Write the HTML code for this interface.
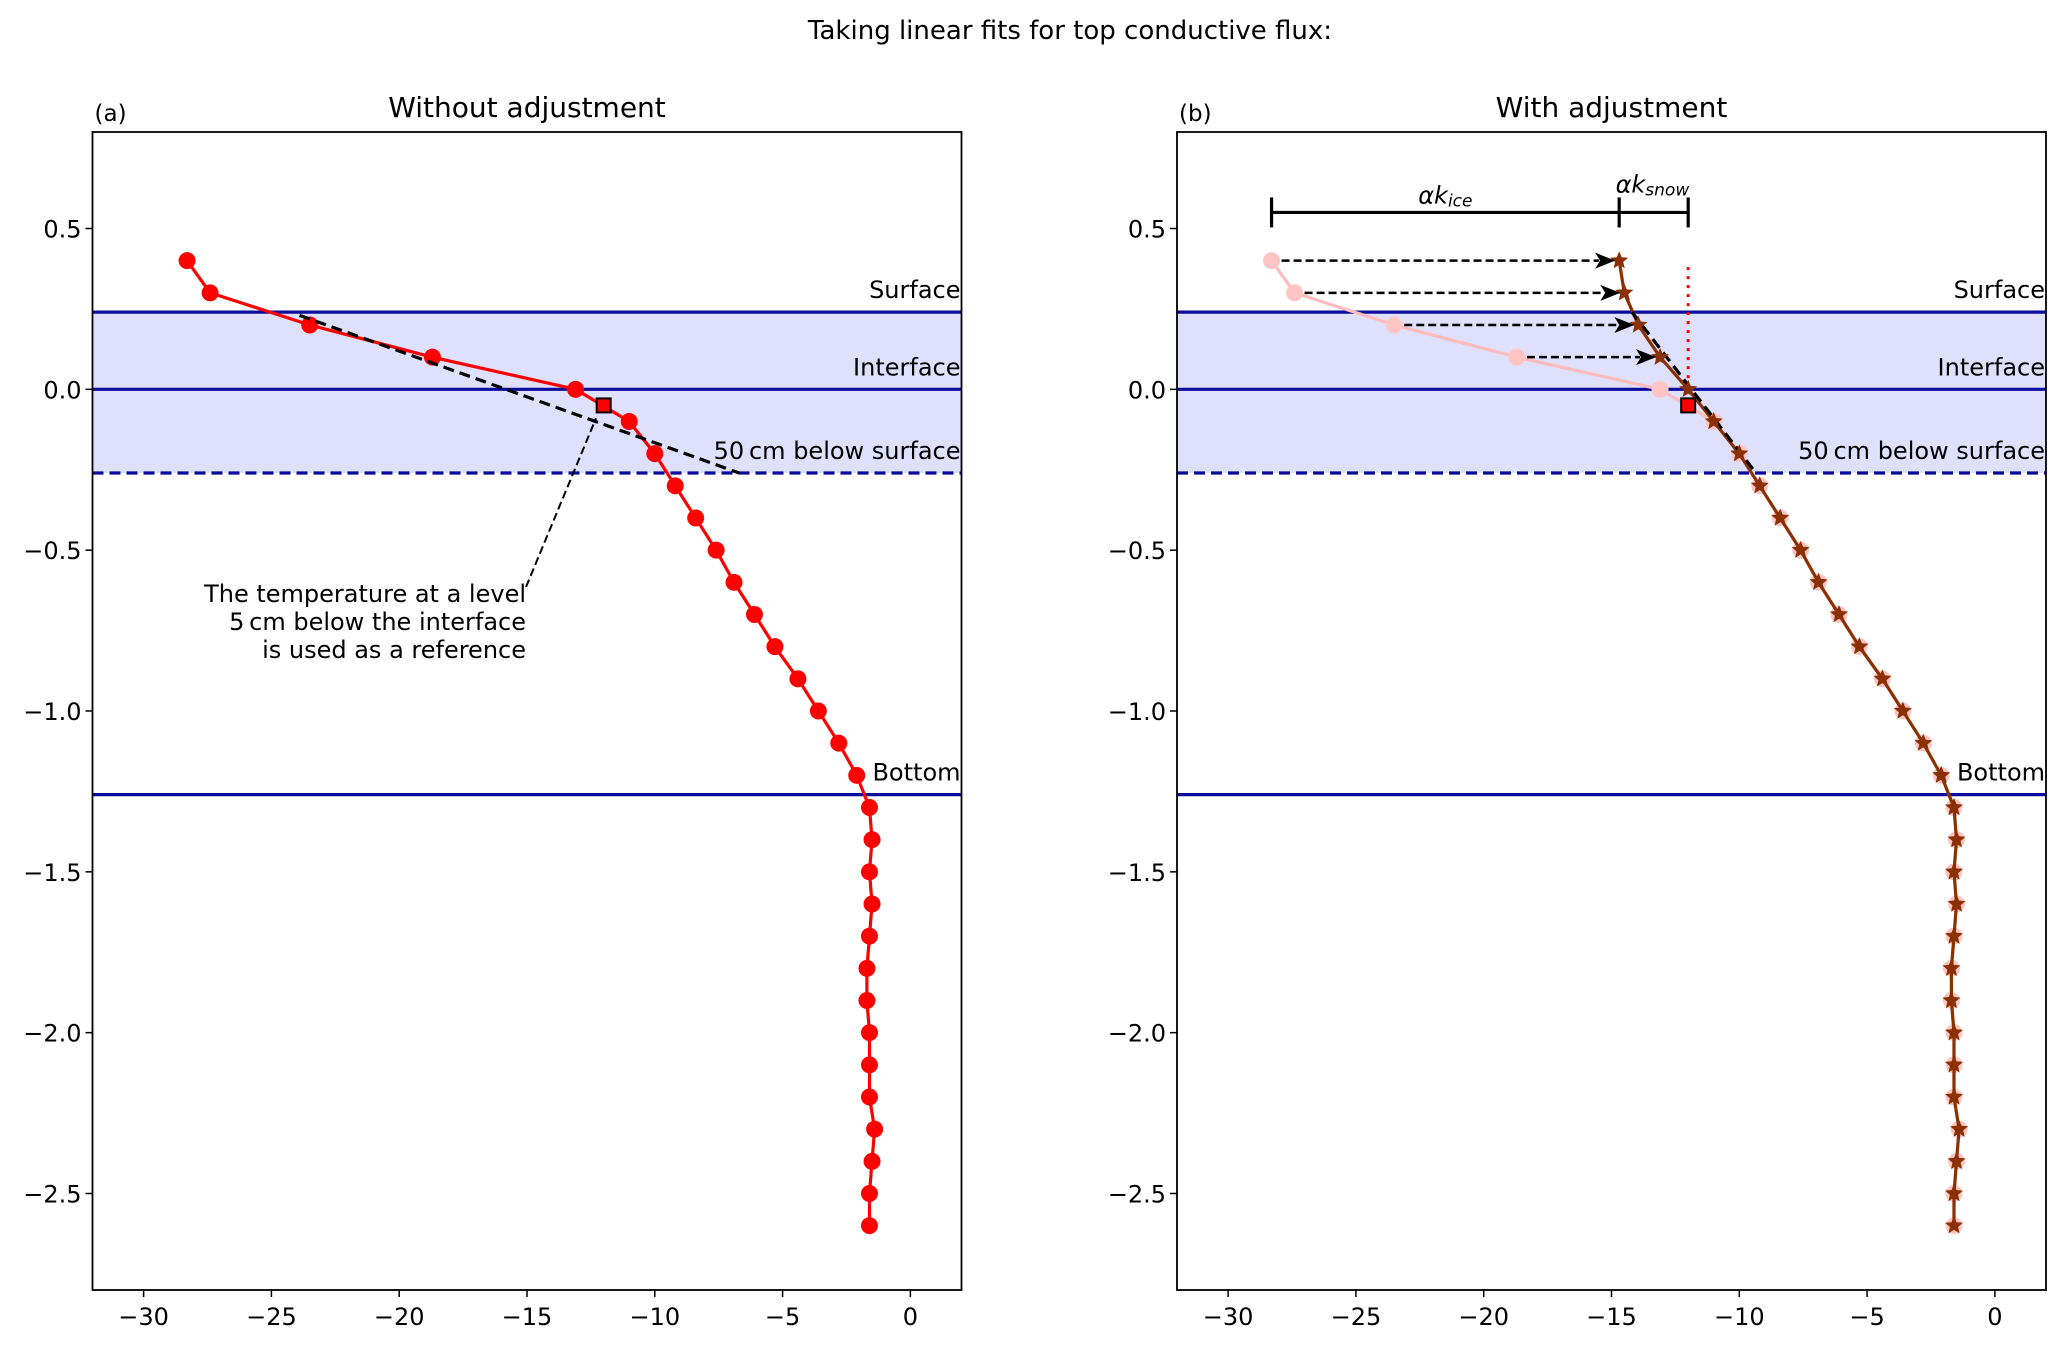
<!DOCTYPE html>
<html><head><meta charset="utf-8"><style>
html,body{margin:0;padding:0;background:#fff;}
svg{display:block;font-family:"DejaVu Sans","Liberation Sans",sans-serif;}
</style></head><body>
<svg id="fig" width="2067" height="1346" viewBox="0 0 2067 1346" xmlns="http://www.w3.org/2000/svg">
<text x="1070" y="39" font-size="26" text-anchor="middle">Taking linear fits for top conductive flux:</text>
<g id="pa"></g>
<g id="pb"></g>
</svg>
<script>
const depths = [0.4,0.3,0.2,0.1,0.0,-0.1,-0.2,-0.3,-0.4,-0.5,-0.6,-0.7,-0.8,-0.9,-1.0,-1.1,-1.2,-1.3,-1.4,-1.5,-1.6,-1.7,-1.8,-1.9,-2.0,-2.1,-2.2,-2.3,-2.4,-2.5,-2.6];
const temps = [-28.3,-27.4,-23.5,-18.7,-13.1,-11.0,-10.0,-9.2,-8.4,-7.6,-6.9,-6.1,-5.3,-4.4,-3.6,-2.8,-2.1,-1.6,-1.5,-1.6,-1.5,-1.6,-1.7,-1.7,-1.6,-1.6,-1.6,-1.4,-1.5,-1.6,-1.6];
const adjTop = [-14.7,-14.5,-13.95,-13.1,-12.0];
const refPoint = [-12.0,-0.05];
const fitA = [[-23.9,0.23],[-6.7,-0.26]];
const fitB = [[-14.2,0.24],[-9.35,-0.26]];
const levels = [0.24,0.0,-0.26,-1.26];
const levelNames = ["Surface","Interface","50\u2009cm below surface","Bottom"];
const xTicks = [-30,-25,-20,-15,-10,-5,0];
const yTicks = [0.5,0.0,-0.5,-1.0,-1.5,-2.0,-2.5];
const yTickLabels = ["0.5","0.0","\u22120.5","\u22121.0","\u22121.5","\u22122.0","\u22122.5"];
const xTickLabels = ["\u221230","\u221225","\u221220","\u221215","\u221210","\u22125","0"];
const XMIN=-32,XMAX=2,YMIN=-2.8,YMAX=0.8;
const NS="http://www.w3.org/2000/svg";
function mk(parent,tag,attrs,txt){const e=document.createElementNS(NS,tag);for(const k in attrs)e.setAttribute(k,attrs[k]);if(txt!==undefined)e.textContent=txt;parent.appendChild(e);return e;}
function star(cx,cy,r){let p=[];for(let i=0;i<10;i++){const a=-Math.PI/2+i*Math.PI/5;const rr=i%2?r*0.45:r;p.push((cx+rr*Math.cos(a)).toFixed(1)+","+(cy+rr*Math.sin(a)).toFixed(1));}return p.join(" ");}
function panel(g,left,isB){
  const top=132,bottom=1290,w=869;
  const sx=v=>left+(v-XMIN)/(XMAX-XMIN)*w;
  const sy=v=>top+(YMAX-v)/(YMAX-YMIN)*(bottom-top);
  let e=mk(g,'rect',{x:left,y:sy(levels[0]),width:w,height:sy(levels[2])-sy(levels[0]),fill:'#dfe0fc'});
  
  levels.forEach((lv,i)=>{
    const l=mk(g,'line',{x1:left,x2:left+w,y1:sy(lv),y2:sy(lv),stroke:'#0a0a9c','stroke-width':3.2,'stroke-dasharray':i==2?'11,6':'none'});
    
    const t=mk(g,'text',{x:left+w-1,y:sy(lv)-14,'font-size':24,'text-anchor':'end'},levelNames[i]);
    
  });
  const pts=(xs,ys)=>xs.map((x,i)=>sx(x).toFixed(1)+","+sy(ys[i]).toFixed(1)).join(" ");
  if(!isB){
    e=mk(g,'polyline',{points:pts(temps,depths),fill:'none',stroke:'#ff0000','stroke-width':3.2});
    
    temps.forEach((t,i)=>{const c=mk(g,'circle',{cx:sx(t),cy:sy(depths[i]),r:8.5,fill:'#ff0000'});
      });
    e=mk(g,'line',{x1:sx(fitA[0][0]),y1:sy(fitA[0][1]),x2:sx(fitA[1][0]),y2:sy(fitA[1][1]),stroke:'#000','stroke-width':3.2,'stroke-dasharray':'11,6'});
    
    e=mk(g,'line',{x1:526,y1:587,x2:sx(-12.3),y2:sy(-0.09),stroke:'#000','stroke-width':2,'stroke-dasharray':'8,4'});
    
    const lines=["The temperature at a level","5\u2009cm below the interface","is used as a reference"];
    lines.forEach((s,i)=>{const t=mk(g,'text',{x:526,y:602+28*i,'font-size':24,'text-anchor':'end'},s);
      });
  } else {
    const origTop=temps.slice(0,5),dTop=depths.slice(0,5);
    e=mk(g,'polyline',{points:pts(temps,depths),fill:'none',stroke:'#ffbcbc','stroke-width':3.2});
    
    temps.forEach((t,i)=>{const c=mk(g,'circle',{cx:sx(t),cy:sy(depths[i]),r:8.5,fill:'#ffc4c4'});
      });
    e=mk(g,'line',{x1:sx(-12),x2:sx(-12),y1:sy(0.38),y2:sy(0),stroke:'#ff0000','stroke-width':3,'stroke-dasharray':'3,6'});
    
    const adjT=adjTop.concat(temps.slice(5));
    e=mk(g,'polyline',{points:pts(adjT,depths),fill:'none',stroke:'#8b3000','stroke-width':3.2});
    
    e=mk(g,'line',{x1:sx(fitB[0][0]),y1:sy(fitB[0][1]),x2:sx(fitB[1][0]),y2:sy(fitB[1][1]),stroke:'#000','stroke-width':3.2,'stroke-dasharray':'11,6'});
    
    adjT.forEach((t,i)=>{const s=mk(g,'polygon',{points:star(sx(t),sy(depths[i]),9.5),fill:'#8b3000'});
      });
    for(let i=0;i<4;i++){
      const x1=sx(origTop[i])+10,x2=sx(adjTop[i])-4,y=sy(dTop[i]);
      e=mk(g,'line',{x1:x1,x2:x2-16,y1:y,y2:y,stroke:'#000','stroke-width':2.5,'stroke-dasharray':'8,4'});
      
      e=mk(g,'polygon',{points:`${x2},${y} ${x2-20},${y-8} ${x2-15},${y} ${x2-20},${y+8}`,fill:'#000'});
      
    }
    const by=sy(0.55);
    e=mk(g,'line',{x1:sx(-28.3),x2:sx(-12),y1:by,y2:by,stroke:'#000','stroke-width':3.2});
    
    [-28.3,-14.7,-12].forEach(v=>{const l=mk(g,'line',{x1:sx(v),x2:sx(v),y1:by-15,y2:by+15,stroke:'#000','stroke-width':3.2});
      });
    let t=mk(g,'text',{x:sx(-21.5),y:by-9,'font-size':24,'text-anchor':'middle','font-style':'italic'});
    
    t.innerHTML='αk<tspan font-size="17" dy="3">ice</tspan>';
    t=mk(g,'text',{x:sx(-13.4),y:by-20,'font-size':24,'text-anchor':'middle','font-style':'italic'});
    
    t.innerHTML='αk<tspan font-size="17" dy="3">snow</tspan>';
  }
  e=mk(g,'rect',{x:sx(refPoint[0])-7,y:sy(refPoint[1])-7,width:14,height:14,fill:'#ff0000',stroke:'#000','stroke-width':2});
  
  e=mk(g,'rect',{x:left,y:top,width:w,height:bottom-top,fill:'none',stroke:'#000','stroke-width':1.8});
  
  xTicks.forEach((v,i)=>{const x=sx(v);mk(g,'line',{x1:x,x2:x,y1:bottom,y2:bottom+7,stroke:'#000','stroke-width':1.5});
    const t=mk(g,'text',{x:x,y:bottom+35,'font-size':24,'text-anchor':'middle'},xTickLabels[i]);
    });
  yTicks.forEach((v,i)=>{const y=sy(v);mk(g,'line',{x1:left-7,x2:left,y1:y,y2:y,stroke:'#000','stroke-width':1.5});
    const t=mk(g,'text',{x:left-11,y:y+9,'font-size':24,'text-anchor':'end'},yTickLabels[i]);
    });
  let t=mk(g,'text',{x:left+w/2,y:117,'font-size':28,'text-anchor':'middle'},isB?'With adjustment':'Without adjustment');
  
  t=mk(g,'text',{x:left+2,y:121,'font-size':23},isB?'(b)':'(a)');
  
}
panel(document.getElementById('pa'),92.5,false);
panel(document.getElementById('pb'),1177,true);
</script>
</body></html>
